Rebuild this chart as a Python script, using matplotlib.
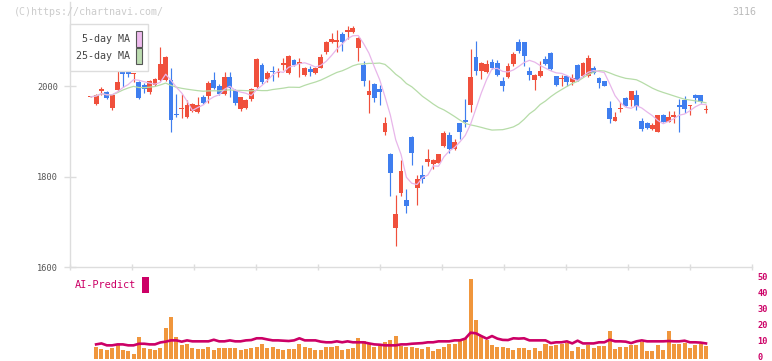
import numpy as np
import pandas as pd
import matplotlib
matplotlib.use("Agg")
import matplotlib.pyplot as plt
from matplotlib import transforms
from matplotlib.patches import Rectangle

# ---- daily candles (index 0 .. 115) ----
opens = [1976, 1960, 1989, 1986, 1952, 1991, 2030, 2030, 2026, 2009,
         2002, 1987, 2002, 2013, 2013, 2013, 1938, 1949, 1932, 1945,
         1943, 1976, 1979, 2013, 2001, 1982, 2019, 1991, 1949, 1952,
         1971, 1998, 2046, 2015, 2033, 2029, 2046, 2029, 2057, 2048,
         2024, 2037, 2028, 2040, 2076, 2096, 2096, 2115, 2120, 2120,
         2084, 2046, 1980, 2004, 1993, 1899, 1850, 1687, 1765, 1749,
         1888, 1774, 1804, 1833, 1829, 1831, 1868, 1892, 1861, 1918,
         1925, 1958, 2063, 2033, 2030, 2054, 2051, 2011, 2020, 2049,
         2096, 2096, 2032, 2013, 2022, 2060, 2072, 2021, 2016, 2022,
         2009, 2046, 2022, 2021, 2039, 2018, 2011, 1951, 1923, 1949,
         1973, 1969, 1980, 1923, 1919, 1905, 1899, 1936, 1921, 1931,
         1958, 1969, 1956, 1980, 1980, 1948]
highs = [1977, 1983, 1998, 1988, 1982, 2035, 2039, 2040, 2029, 2012,
         2007, 2013, 2017, 2087, 2066, 2039, 1982, 1982, 1969, 1962,
         1975, 1980, 2010, 2030, 2004, 2030, 2030, 1993, 1975, 1971,
         1995, 2062, 2050, 2033, 2044, 2040, 2061, 2068, 2060, 2062,
         2043, 2045, 2041, 2071, 2100, 2118, 2124, 2119, 2133, 2133,
         2108, 2055, 2013, 2007, 2002, 1932, 1853, 1760, 1837, 1773,
         1889, 1804, 1826, 1860, 1838, 1850, 1900, 1898, 1883, 1919,
         1971, 2082, 2099, 2053, 2058, 2060, 2058, 2020, 2050, 2074,
         2103, 2097, 2041, 2026, 2055, 2066, 2074, 2022, 2024, 2023,
         2026, 2048, 2052, 2069, 2045, 2019, 2012, 1968, 1943, 1965,
         1975, 1990, 1991, 1930, 1920, 1918, 1937, 1938, 1945, 1945,
         1971, 1978, 1958, 1982, 1981, 1958]
lows = [1975, 1958, 1980, 1972, 1947, 1988, 1998, 2020, 2009, 1971,
        1985, 1983, 2000, 2012, 2012, 1899, 1932, 1929, 1930, 1943,
        1941, 1960, 1962, 1993, 1980, 1980, 1975, 1958, 1945, 1950,
        1967, 1996, 2005, 2008, 2011, 2019, 2035, 2026, 2044, 2020,
        2022, 2022, 2027, 2039, 2071, 2095, 2075, 2077, 2104, 2118,
        2055, 2000, 1941, 1965, 1958, 1892, 1757, 1648, 1758, 1720,
        1826, 1737, 1786, 1824, 1817, 1830, 1865, 1853, 1859, 1884,
        1910, 1943, 2024, 2015, 2028, 2037, 2022, 1989, 2018, 2044,
        2073, 2044, 2013, 1991, 2020, 2047, 2035, 1999, 2000, 2000,
        2002, 2012, 2020, 2020, 2026, 1996, 1999, 1919, 1922, 1943,
        1955, 1956, 1947, 1901, 1905, 1904, 1898, 1920, 1920, 1918,
        1899, 1940, 1936, 1963, 1963, 1940]
closes = [1976, 1980, 1993, 1974, 1980, 2009, 2026, 2027, 2028, 1973,
          1993, 2011, 2015, 2048, 2063, 1925, 1935, 1952, 1958, 1960,
          1958, 1962, 2006, 1995, 1982, 2019, 1995, 1962, 1975, 1969,
          1993, 2060, 2009, 2029, 2031, 2031, 2050, 2066, 2046, 2054,
          2040, 2030, 2039, 2065, 2098, 2104, 2101, 2096, 2124, 2129,
          2107, 2012, 1990, 1974, 1987, 1919, 1809, 1718, 1812, 1735,
          1853, 1795, 1795, 1839, 1837, 1849, 1897, 1861, 1877, 1899,
          1921, 2020, 2033, 2050, 2048, 2039, 2024, 2000, 2044, 2070,
          2078, 2067, 2024, 2024, 2033, 2049, 2037, 2002, 2018, 2009,
          2017, 2013, 2051, 2062, 2028, 2006, 2001, 1927, 1931, 1951,
          1956, 1989, 1956, 1905, 1907, 1915, 1936, 1921, 1931, 1936,
          1954, 1949, 1957, 1974, 1965, 1950]

# volume (in units of the right-hand scale) and AI-Predict line
volume = [0, 7.1, 6.1, 5.2, 6.7, 8.4, 5.2, 4.6, 3.1, 13.4,
          6.3, 5.9, 5.2, 6.3, 18.9, 26.0, 13.4, 8.4, 9.0, 6.3,
          5.9, 5.9, 6.9, 5.2, 6.3, 6.3, 6.3, 6.3, 5.2, 5.9,
          6.5, 7.3, 8.8, 6.3, 6.9, 5.7, 5.0, 5.7, 5.7, 8.8,
          7.3, 6.3, 5.0, 5.0, 7.3, 7.3, 7.5, 5.0, 5.7, 6.3,
          12.6, 10.9, 9.9, 6.9, 7.8, 10.1, 11.3, 13.8, 7.8, 7.3,
          7.3, 6.3, 5.7, 6.9, 4.6, 5.7, 6.9, 8.8, 8.8, 11.9,
          12.6, 49.5, 23.9, 14.0, 11.3, 8.2, 6.9, 7.3, 6.3, 5.2,
          6.3, 6.3, 5.0, 6.3, 4.4, 8.8, 7.5, 8.2, 8.8, 9.9,
          4.4, 6.9, 5.7, 8.2, 6.3, 7.5, 7.5, 17.0, 5.7, 6.9,
          6.9, 8.2, 8.2, 10.1, 4.4, 4.4, 8.2, 5.0, 17.0, 8.8,
          8.8, 9.9, 6.3, 8.2, 8.8, 7.5]
ai_predict = [None, 8.8, 9.4, 8.2, 8.2, 8.8, 8.8, 8.2, 8.2, 9.2,
              9.2, 8.8, 8.8, 10.0, 10.5, 11.3, 11.3, 10.5, 11.3, 10.7,
              10.7, 10.7, 10.7, 11.7, 10.7, 10.7, 11.3, 10.7, 10.7, 11.3,
              11.5, 12.6, 12.6, 11.9, 11.3, 11.3, 11.1, 10.9, 11.3, 12.6,
              11.3, 11.3, 11.3, 10.5, 10.1, 10.1, 10.7, 10.1, 10.7, 10.1,
              10.1, 10.1, 9.4, 8.8, 8.6, 8.2, 8.2, 8.2, 8.8, 8.8,
              9.2, 9.4, 9.6, 10.1, 10.1, 10.7, 10.7, 10.7, 11.3, 11.3,
              12.4, 16.1, 15.7, 14.0, 12.4, 14.0, 12.4, 11.6, 11.5, 12.6,
              12.4, 12.6, 11.3, 11.3, 11.3, 11.3, 9.6, 10.1, 10.1, 10.7,
              9.4, 11.1, 9.4, 9.4, 9.4, 10.1, 10.1, 11.7, 10.7, 10.7,
              10.5, 9.6, 10.7, 11.3, 10.7, 10.7, 10.7, 10.7, 10.9, 10.7,
              10.7, 11.1, 10.1, 10.1, 9.9, 9.4]

date_labels = ["2/3", "2/18", "3/5", "3/19", "4/3", "4/17", "5/2", "5/20", "6/3", "6/17", "7/1"]
date_label_idx = [15, 25, 35, 45, 55, 65, 75, 85, 95, 105, 115]
price_ticks = [1600, 1800, 2000]
ai_ticks = [0, 10, 20, 30, 40, 50]

W, H = 772, 361
RED = "#f0503c"
BLUE = "#3f7eef"
MONO = "DejaVu Sans Mono"


def fx(px):
    return px / W


def fy(py):
    return 1 - py / H


fig = plt.figure(figsize=(W / 100, H / 100), dpi=100)
fig.patch.set_facecolor("white")

# ---- price panel ----
x_lim = (-3.88, 123.6)
px_per_yen = 181.3 / 400
ax = fig.add_axes([fx(70), fy(267.3), fx(752) - fx(70), fy(2) - fy(267.3)])
ax.set_xlim(*x_lim)
ax.set_ylim(1600, 1600 + 265.3 / px_per_yen)

idx = np.arange(len(closes))
o = np.array(opens, float)
c = np.array(closes, float)
up = c >= o
colors = np.where(up, RED, BLUE)

ax.vlines(idx, lows, highs, colors=colors, linewidth=0.85, zorder=2)
body_h = np.maximum(np.abs(c - o), 2.2)
ax.bar(idx, body_h, bottom=np.minimum(o, c), width=0.9, color=colors,
       linewidth=0, zorder=3)

s = pd.Series(closes, dtype=float)
ma5 = s.rolling(5, min_periods=1).mean()
ma25 = s.rolling(25, min_periods=1).mean()
ax.plot(idx, ma25, color="#b6dca8", linewidth=0.9, zorder=4)
ax.plot(idx, ma5, color="#e8b6ea", linewidth=0.9, zorder=4)

for sp in ["top", "right"]:
    ax.spines[sp].set_visible(False)
for sp in ["left", "bottom"]:
    ax.spines[sp].set_color("#dddddd")
    ax.spines[sp].set_linewidth(1)

ax.set_xticks(np.linspace(x_lim[0], x_lim[1], 12))
ax.set_xticklabels([])
ax.tick_params(axis="x", direction="inout", length=5, color="#dddddd", width=1)
ax.set_yticks(price_ticks)
ax.set_yticklabels([str(v) for v in price_ticks], fontfamily=MONO)
ax.tick_params(axis="y", direction="inout", length=9, color="#dddddd", width=1,
               labelsize=6.2, labelcolor="#555555", pad=4)

trans = transforms.blended_transform_factory(ax.transData, fig.transFigure)
for lab, i in zip(date_labels, date_label_idx):
    ax.text(i, fy(282), lab, transform=trans, ha="center", va="center",
            fontsize=6.4, color="#555555", fontfamily=MONO)

# legend box
fig.patches.append(Rectangle((fx(70), fy(71)), fx(148) - fx(70), fy(24) - fy(71),
                             transform=fig.transFigure, facecolor="white",
                             edgecolor="#dddddd", linewidth=1, zorder=5))
for label, col, yc in [("5-day MA", "#eebbee", 39), ("25-day MA", "#bcdcb0", 56)]:
    fig.text(fx(130), fy(yc), label, ha="right", va="center", fontsize=7.2,
             color="#444444", fontfamily=MONO, zorder=6)
    fig.patches.append(Rectangle((fx(136), fy(yc + 7.5)), fx(142) - fx(136), fy(yc - 7.5) - fy(yc + 7.5),
                                 transform=fig.transFigure, facecolor=col,
                                 edgecolor="#555555", linewidth=0.8, zorder=6))

# ---- volume / AI-Predict panel ----
ax2 = fig.add_axes([fx(70), fy(358.5), fx(752) - fx(70), fy(278.3) - fy(358.5)])
ax2.set_xlim(*x_lim)
ax2.set_ylim(0, 50)
ax2.bar(idx, volume, width=0.75, color="#f0963c", linewidth=0, zorder=2)
ai = np.array([np.nan if v is None else v for v in ai_predict], float)
ax2.plot(idx, ai, color="#cc0066", linewidth=1.9, zorder=3)
for sp in ax2.spines.values():
    sp.set_visible(False)
ax2.set_xticks([])
ax2.yaxis.tick_right()
ax2.set_yticks(ai_ticks)
ax2.set_yticklabels([str(v) for v in ai_ticks], fontfamily=MONO, fontweight="bold")
ax2.tick_params(axis="y", length=0, labelsize=6.2, labelcolor="#cc0066", pad=4)
lift = transforms.ScaledTranslation(0, 1.5 / 72, fig.dpi_scale_trans)
for t in ax2.get_yticklabels():
    t.set_transform(t.get_transform() + lift)

fig.text(fx(75), fy(285), "AI-Predict", ha="left", va="center", fontsize=7.4,
         color="#cc0066", fontfamily=MONO)
fig.patches.append(Rectangle((fx(142), fy(293)), fx(149) - fx(142), fy(277) - fy(293),
                             transform=fig.transFigure, facecolor="#cc0066",
                             edgecolor="none"))

# header texts
fig.text(fx(14), fy(12), "(C)https://chartnavi.com/", ha="left", va="center",
         fontsize=7.2, color="#cccccc", fontfamily=MONO)
fig.text(fx(756), fy(12), "3116", ha="right", va="center", fontsize=7.2,
         color="#bbbbbb", fontfamily=MONO)

fig.savefig("out.png", dpi=100)
